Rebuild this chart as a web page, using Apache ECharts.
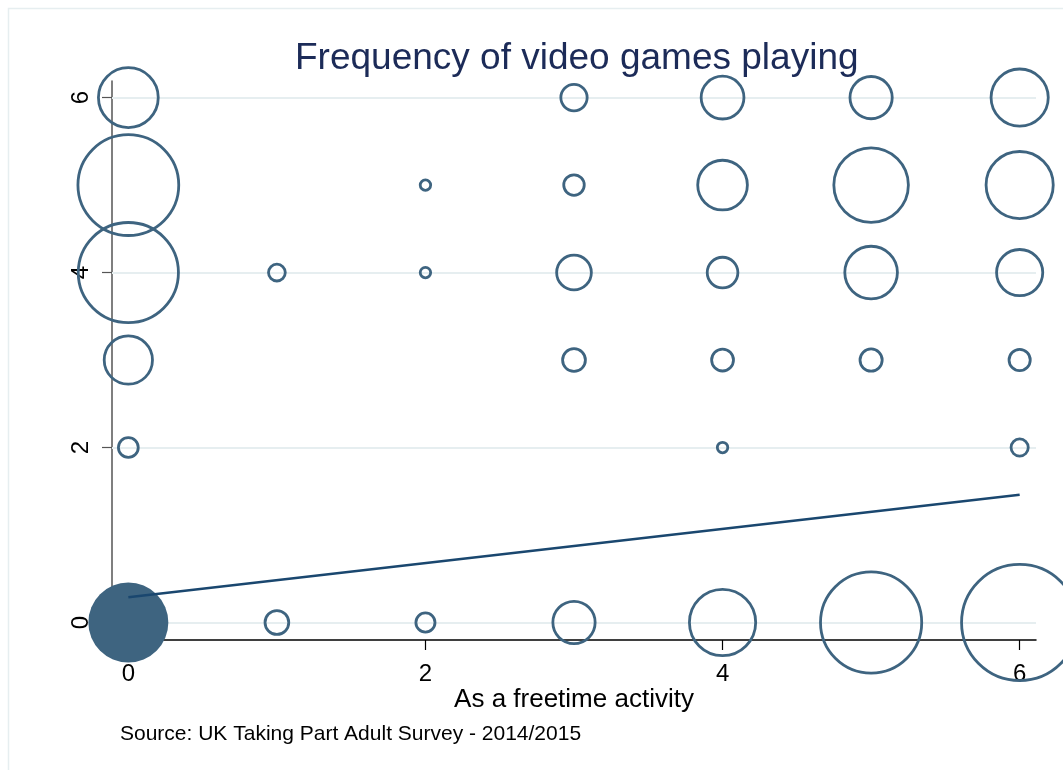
<!DOCTYPE html>
<html>
<head>
<meta charset="utf-8">
<script src="https://cdn.jsdelivr.net/npm/echarts@6/dist/echarts.min.js"></script>
<style>
html,body{margin:0;padding:0;background:#fff;}
#chart{width:1063px;height:770px;}
</style>
</head>
<body>
<div id="chart"></div>
<script>
// Data: [freetime activity, video games frequency, weight]
var filledBubbles = [[0, 0, 400]];
var hollowBubbles = [
  [1, 0, 44], [2, 0, 30], [3, 0, 127], [4, 0, 298], [5, 0, 676], [6, 0, 885],
  [0, 2, 32], [4, 2, 11], [6, 2, 25],
  [0, 3, 163], [3, 3, 41], [4, 3, 38], [5, 3, 39], [6, 3, 36],
  [0, 4, 663], [1, 4, 24], [2, 4, 11], [3, 4, 88], [4, 4, 70], [5, 4, 192], [6, 4, 150],
  [0, 5, 671], [2, 5, 11], [3, 5, 34], [4, 5, 172], [5, 5, 374], [6, 5, 306],
  [0, 6, 245], [3, 6, 53], [4, 6, 130], [5, 6, 127], [6, 6, 225]
];
var fitLine = [[0, 0.29], [6, 1.46]];
var xTicks = [0, 2, 4, 6];
var yTicks = [0, 2, 4, 6];
var titleText = 'Frequency of video games playing';
var xName = 'As a freetime activity';
var sourceText = 'Source: UK Taking Part Adult Survey - 2014/2015';

var FONT = '"Liberation Sans", Arial, sans-serif';
var bubbleColor = '#3e6480';

var chart = echarts.init(document.getElementById('chart'));
chart.setOption({
  backgroundColor: '#ffffff',
  animation: false,
  graphic: [{
    type: 'rect', left: 6, top: 6, z: -10, silent: true,
    shape: { width: 1120, height: 820 },
    style: { fill: 'none', stroke: '#e6eef0', lineWidth: 1.5 }
  }],
  title: [{
    text: titleText, left: 290, top: 35,
    textStyle: { fontFamily: FONT, fontSize: 37, fontWeight: 'normal', color: '#1c2b58' }
  }, {
    text: sourceText, left: 115, top: 719,
    textStyle: { fontFamily: FONT, fontSize: 21, fontWeight: 'normal', color: '#000' }
  }],
  grid: { left: 112, right: 27, top: 81, bottom: 130, containLabel: false },
  xAxis: {
    type: 'value', min: -0.11, max: 6.11,
    name: xName, nameLocation: 'middle', nameGap: 47, nameMoveOverlap: false,
    nameTextStyle: { fontFamily: FONT, fontSize: 26, color: '#000' },
    axisLine: { show: true, onZero: false, lineStyle: { color: '#000', width: 1.5 } },
    axisTick: { show: true, length: 10, customValues: xTicks, lineStyle: { color: '#000', width: 1.2 } },
    axisLabel: { customValues: xTicks, margin: 22, fontFamily: FONT, fontSize: 24, color: '#000' },
    splitLine: { show: false }
  },
  yAxis: {
    type: 'value', min: -0.2, max: 6.19,
    axisLine: { show: true, onZero: false, lineStyle: { color: '#555', width: 1.5 } },
    axisTick: { show: true, length: 10, customValues: yTicks, lineStyle: { color: '#555', width: 1.2 } },
    axisLabel: { customValues: yTicks, rotate: 90, margin: 19, fontFamily: FONT, fontSize: 24, color: '#000' },
    splitLine: { show: false }
  },
  series: [{
    type: 'line', data: [], silent: true, z: 1,
    markLine: {
      silent: true, z: 1, symbol: ['none', 'none'], label: { show: false },
      lineStyle: { color: '#e6eef0', width: 2, type: 'solid' },
      data: yTicks.map(function (v) { return { yAxis: v }; })
    }
  }, {
    type: 'scatter', data: hollowBubbles, clip: false, z: 3,
    symbol: 'circle',
    symbolSize: function (v) { return 2 * (2 * Math.sqrt(v[2])) - 2.8; },
    itemStyle: { color: 'rgba(255,255,255,0)', borderColor: bubbleColor, borderWidth: 2.8, opacity: 1 },
    emphasis: { disabled: true }
  }, {
    type: 'scatter', data: filledBubbles, clip: false, z: 3,
    symbol: 'circle',
    symbolSize: function (v) { return 2 * (2 * Math.sqrt(v[2])); },
    itemStyle: { color: bubbleColor, opacity: 1 },
    emphasis: { disabled: true }
  }, {
    type: 'line', data: fitLine, z: 5, symbol: 'none', silent: true,
    lineStyle: { color: '#1a476f', width: 2.5 }
  }]
});
</script>
</body>
</html>
